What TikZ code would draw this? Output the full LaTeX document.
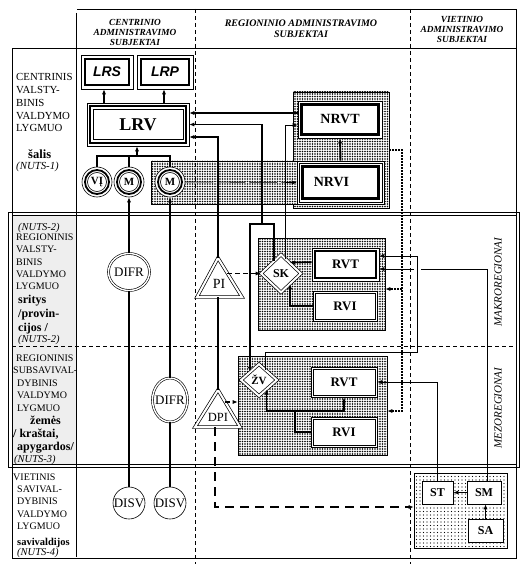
\documentclass[tikz,border=0pt]{standalone}
\usepackage{fontspec}
\setmainfont{Liberation Serif}
\newfontfamily\arialf{Liberation Sans}
\usetikzlibrary{arrows.meta,patterns,shapes.geometric}
\pgfdeclarepatternformonly{densedots}{\pgfqpoint{-1pt}{-1pt}}{\pgfqpoint{1.5pt}{1.5pt}}{\pgfqpoint{2.5pt}{2.5pt}}{\pgfpathcircle{\pgfqpoint{0pt}{0pt}}{.8pt}\pgfusepath{fill}}
\pgfdeclarepatternformonly{sparsedots}{\pgfqpoint{-1pt}{-1pt}}{\pgfqpoint{1pt}{1pt}}{\pgfqpoint{3.5pt}{3.5pt}}{\pgfpathcircle{\pgfqpoint{0pt}{0pt}}{.6pt}\pgfusepath{fill}}
\newcommand\fsz[2]{\fontsize{#1}{#2}\selectfont}
\newcommand\insetrect[3]{\draw[line width=#3] ([shift={(#2,#2)}]#1.north west) rectangle ([shift={(-#2,-#2)}]#1.south east);}
\begin{document}
\begin{tikzpicture}[x=1pt,y=-1pt,
  tip/.style={-{Latex[length=5pt,width=4.2pt]}},
  thk/.style={line width=1.9pt},
  med/.style={line width=1.5pt},
  thn/.style={line width=.7pt},
  dsh/.style={line width=1.3pt,dash pattern=on 5pt off 3pt},
  tdsh/.style={line width=1.9pt,dash pattern=on 9pt off 6pt},
  lds/.style={line width=.6pt,dash pattern=on 28pt off 4pt},
  dtd/.style={line width=2.2pt,dash pattern=on 1.6pt off 1.4pt},
  vdsh/.style={line width=.7pt,dash pattern=on 4pt off 3pt},
  grp/.style={draw,line width=.6pt,preaction={fill=white},pattern=densedots,inner sep=0,rectangle},
  sgrp/.style={draw,line width=.6pt,preaction={fill=white},pattern=sparsedots,inner sep=0,rectangle},
  bx/.style={draw,line width=.6pt,fill=white,inner sep=0,rectangle},
  rg/.style={circle,draw,line width=.6pt,fill=white,inner sep=0,minimum size=30pt,font=\bfseries\fsz{11}{11}},
  dia/.style={diamond,draw,double,double distance=2pt,line width=.7pt,fill=white,inner sep=0},
  ell/.style={ellipse,draw,double,double distance=1.4pt,line width=.6pt,fill=white,inner sep=0,font=\fsz{13}{13}},
  sc/.style={circle,draw,line width=.6pt,fill=white,inner sep=0,minimum size=32pt,font=\fsz{13}{13}},
  lt/.style={anchor=base west,inner sep=0},
  hd/.style={anchor=base,inner sep=0,font=\bfseries\itshape\fsz{9.3}{10}},
  frm/.style={line width=.8pt},
]
\useasboundingbox (0,0) rectangle (525,564);
% grey left column of regional levels
\fill[gray!13] (12,215) rectangle (76.5,465);
% group boxes
\node[grp, minimum width=96pt, minimum height=116pt] (NRVTgrp) at (341,150) {};
\node[grp, minimum width=233pt, minimum height=43pt] (band) at (267.5,182.5) {};
\node[grp, minimum width=127pt, minimum height=92pt] (SKgrp) at (321.5,284) {};
\node[grp, minimum width=149pt, minimum height=99pt] (ZVgrp) at (312.5,405.5) {};
\node[sgrp, minimum width=93pt, minimum height=75pt] (Sgrp) at (460.5,510.5) {};
% frame
\draw[frm] (77,9) -- (516,9) -- (516,558) -- (12,558) -- (12,48) -- (516,48);
\draw[frm] (76.5,13) -- (76.5,557);
\draw[frm] (8,212) rectangle (519.5,467.5);
\draw[frm] (12,215) rectangle (516,464.5);
\draw[vdsh] (12,346) -- (516,346);
\draw[vdsh] (195,9) -- (195,564);
\draw[vdsh] (410.5,9) -- (410.5,564);
% headers
\node[hd] (h1a) at (135,26) {CENTRINIO};
\node[hd] (h1b) at (135,36) {ADMINISTRAVIMO};
\node[hd] (h1c) at (135,46) {SUBJEKTAI};
\node[hd,font=\bfseries\itshape\fsz{10}{10}] (h2a) at (301,27) {REGIONINIO ADMINISTRAVIMO};
\node[hd,font=\bfseries\itshape\fsz{10}{10}] (h2b) at (301,38) {SUBJEKTAI};
\node[hd] (h3a) at (462,23) {VIETINIO};
\node[hd] (h3b) at (462,33) {ADMINISTRAVIMO};
\node[hd] (h3c) at (462,43) {SUBJEKTAI};
% left column texts
\begin{scope}[every node/.append style={font=\fsz{10.8}{12}}]
\node[lt] (a1) at (16,81) {CENTRINIS};
\node[lt] (a2) at (16,94) {VALSTY-};
\node[lt] (a3) at (16,107) {BINIS};
\node[lt] (a4) at (16,119.5) {VALDYMO};
\node[lt] (a5) at (16,132) {LYGMUO};
\node[lt,font=\bfseries\fsz{12.5}{12}] (a6) at (28,158.5) {šalis};
\node[lt,font=\itshape\fsz{10.8}{12}] (a7) at (16,170) {(NUTS-1)};
\end{scope}
\begin{scope}[every node/.append style={font=\fsz{10}{12}}]
\node[lt,font=\itshape\fsz{10.5}{12}] (b0) at (18,230) {(NUTS-2)};
\node[lt] (b1) at (16,240) {REGIONINIS};
\node[lt] (b2) at (16,252) {VALSTY-};
\node[lt] (b3) at (16,265) {BINIS};
\node[lt] (b4) at (16,277) {VALDYMO};
\node[lt] (b5) at (16,289) {LYGMUO};
\node[lt,font=\bfseries\fsz{12}{12}] (b6) at (18,303) {sritys};
\node[lt,font=\bfseries\fsz{12}{12}] (b7) at (18,317) {/provin-};
\node[lt,font=\bfseries\fsz{12}{12}] (b8) at (18,331) {cijos /};
\node[lt,font=\itshape\fsz{10.5}{12}] (b9) at (18,342) {(NUTS-2)};
\node[lt] (c1) at (16,361) {REGIONINIS};
\node[lt] (c2) at (13,373) {SUBSAVIVAL-};
\node[lt] (c3) at (17,386) {DYBINIS};
\node[lt] (c4) at (17,398) {VALDYMO};
\node[lt] (c5) at (17,411) {LYGMUO};
\node[lt,font=\bfseries\fsz{12}{12}] (c6) at (30,424) {žemės};
\node[lt,font=\bfseries\fsz{12}{12}] (c7) at (13,437) {/ kraštai,};
\node[lt,font=\bfseries\fsz{12}{12}] (c8) at (17,450) {apygardos/};
\node[lt,font=\itshape\fsz{10.5}{12}] (c9) at (14,462) {(NUTS-3)};
\node[lt] (d1) at (13,480) {VIETINIS};
\node[lt] (d2) at (17,492) {SAVIVAL-};
\node[lt] (d3) at (17,504.5) {DYBINIS};
\node[lt] (d4) at (17,517) {VALDYMO};
\node[lt] (d5) at (17,529.5) {LYGMUO};
\node[lt,font=\bfseries\fsz{10.5}{12}] (d6) at (17,545) {savivaldijos};
\node[lt,font=\itshape\fsz{10.5}{12}] (d7) at (17,555) {(NUTS-4)};
\end{scope}
\node[rotate=90,font=\itshape\fsz{11}{11}] (mk) at (498,282) {MAKROREGIONAI};
\node[rotate=90,font=\itshape\fsz{11}{11}] (mz) at (498,408) {MEZOREGIONAI};
% central nodes
\node[bx, minimum width=52pt, minimum height=34pt, font=\arialf\bfseries\itshape\fsz{14}{14}] (LRS) at (107,72) {LRS};
\node[bx, minimum width=56pt, minimum height=34pt, font=\arialf\bfseries\itshape\fsz{14}{14}] (LRP) at (165,72) {LRP};
\node[bx, minimum width=102pt, minimum height=43pt, font=\bfseries\fsz{18}{18}] (LRV) at (138,124.5) {LRV};
\insetrect{LRS}{4}{1.8pt}
\insetrect{LRP}{4}{1.8pt}
\insetrect{LRV}{3}{2pt}
\insetrect{LRV}{6.5}{0.6pt}
\node[rg] (VI) at (97,182) {VĮ};
\node[rg] (M1) at (129,182) {M};
\node[rg] (M2) at (170,182) {M};
\foreach \c in {VI,M1,M2}{
  \draw[line width=1.8pt] (\c) circle (12pt);
  \draw[line width=.6pt] (\c) circle (9.5pt);
}
\node[ell, minimum width=41pt, minimum height=37pt] (DIFR1) at (129,272) {\makebox[0pt]{DIFR}};
\node[ell, minimum width=35pt, minimum height=44pt] (DIFR2) at (170,400) {\makebox[0pt]{DIFR}};
\node[sc] (DISV1) at (129,503) {\makebox[0pt]{DISV}};
\node[sc] (DISV2) at (170,503) {\makebox[0pt]{DISV}};
% national regional nodes
\node[bx, minimum width=84pt, minimum height=37pt, font=\bfseries\fsz{14}{14}] (NRVT) at (340,119.5) {NRVT};
\insetrect{NRVT}{3.5}{2.8pt}
\node[bx, minimum width=87pt, minimum height=43pt, font=\bfseries\fsz{14}{14}] (NRVI) at (340.5,182.5) {NRVI\hspace*{18pt}};
\insetrect{NRVI}{2.5}{0.6pt}
\insetrect{NRVI}{5.5}{2.8pt}
% triangles
\coordinate (PIt) at (218,258);
\coordinate (PIb) at (218,297);
\coordinate (PIr) at (227,273.5);
\draw[double,double distance=2pt,line width=.7pt,fill=white] (PIt) -- (197,297) -- (242,297) -- cycle;
\node[font=\fsz{14}{14},inner sep=0] (PI) at (219,284) {PI};
\coordinate (DPIt) at (218,390);
\coordinate (DPIb) at (215,427);
\coordinate (DPIr) at (225,402);
\draw[double,double distance=2pt,line width=.7pt,fill=white] (DPIt) -- (195,427) -- (240,427) -- cycle;
\node[font=\fsz{12.5}{12.5},inner sep=0] (DPI) at (218,417) {DPI};
% SK group
\node[dia, minimum width=40pt, minimum height=38pt, font=\bfseries\fsz{12}{12}] (SK) at (281,273.5) {SK};
\node[bx, minimum width=67pt, minimum height=33pt, font=\bfseries\fsz{13}{13}] (RVT1) at (345.5,264.5) {RVT};
\insetrect{RVT1}{3}{2.2pt}
\node[bx, minimum width=64pt, minimum height=30pt, font=\bfseries\fsz{13}{13}] (RVI1) at (345,306) {RVI};
\insetrect{RVI1}{2.5}{0.6pt}
% ZV group
\node[dia, minimum width=36pt, minimum height=32pt, font=\bfseries\fsz{11}{11}] (ZV) at (259,380) {ŽV};
\node[bx, minimum width=66pt, minimum height=30pt, font=\bfseries\fsz{13}{13}] (RVT2) at (344,382) {RVT};
\insetrect{RVT2}{2.5}{0.6pt}
\node[bx, minimum width=66pt, minimum height=30pt, font=\bfseries\fsz{13}{13}] (RVI2) at (344,432) {RVI};
\insetrect{RVI2}{2.5}{0.6pt}
% local group
\node[bx, minimum width=31pt, minimum height=23pt, font=\bfseries\fsz{12}{12}] (ST) at (437.5,492.5) {ST};
\node[bx, minimum width=34pt, minimum height=23pt, font=\bfseries\fsz{12}{12}] (SM) at (484,492.5) {SM};
\node[bx, minimum width=35pt, minimum height=23pt, font=\bfseries\fsz{12}{12}] (SA) at (485.5,530.5) {SA};
% ---- connectors ----
\draw[thk,tip] ([xshift=-3pt]LRS.south |- LRV.north) -- ([xshift=-3pt]LRS.south);
\draw[thk,tip] ([xshift=-1pt]LRP.south |- LRV.north) -- ([xshift=-1pt]LRP.south);
\coordinate (tr) at (137,156);
\draw[thk] (VI.north) |- (tr) -| (M2.north);
\draw[thk] (M1.north) -- (M1.north |- tr);
\draw[thk,tip] (tr) -- (tr |- LRV.south);
\draw[thk] (DISV1) -- (DIFR1);
\draw[thk,tip] (DIFR1) -- (M1);
\draw[thk] (DISV2) -- (DIFR2);
\draw[thk,tip] (DIFR2) -- (M2);
\coordinate (k1) at ([yshift=6.5pt]NRVT.west);
\draw[thk,tip] (k1) -- (k1 -| LRV.east);
\coordinate (jn) at (262,224);
\draw[thk,tip] (jn) |- (LRV.east);
\draw[thk,tip] (SK.121) |- (ZV.138 |- jn) -- (ZV.138);
\coordinate (k3) at ([yshift=-12.5pt]LRV.east);
\draw[thk,tip] (PIt) |- (k3);
\coordinate (k4) at ([yshift=-5.5pt]NRVT.west);
\draw[thn,tip] (SK.72) |- (k4);
\draw[dsh,tip] (PIr) -- (PIr -| SK.west);
\draw[thk] (PIb) -- (DPIt);
\draw[med,tip] ([yshift=2.5pt]RVT1.west) -- (SK.51);
\draw[med,tip] (RVI1.west) -| (SK.310);
\draw[thk,tip] (NRVI.north) -- (NRVT.south);
\draw[lds,tip] (M2.east) -- (NRVI.west);
\coordinate (k5) at ([yshift=-5.5pt]ZVgrp.east);
\coordinate (dvb) at (402,411);
\draw[dtd,tip] (NRVTgrp.east) -| (dvb) -- (k5);
\coordinate (k6) at ([yshift=-5pt]SKgrp.east);
\draw[dtd,tip] (k6 -| dvb) -- (k6);
\coordinate (zr) at (417,352);
\coordinate (k7) at ([yshift=8.5pt]RVT1.east);
\coordinate (k8) at ([yshift=-4.5pt]RVT1.east);
\draw[thn,tip] ([xshift=3pt]SM.north) |- (k8);
\fill[white] (413.5,266) rectangle (420.5,272);
\draw[thn,tip] (ZV.57) |- (zr) |- (k7);
\draw[thn,tip] (ST.north) |- (RVT2.east);
\coordinate (rj) at (295,411);
\draw[med] (RVI2.west) -| (rj);
\draw[med,tip] (rj) -| (RVT2.south);
\draw[med,tip] (rj) -| (ZV.309);
\draw[dsh,tip] (DPIr) -- (DPIr -| ZVgrp.west);
\coordinate (k9) at ([yshift=3.5pt]Sgrp.west);
\draw[tdsh,tip] (DPIb) |- (k9);
\draw[med,tip] (SM.west) -- (ST.east);
\draw[med,tip] (SA.north) -- (SA.north |- SM.south);
\end{tikzpicture}
\end{document}
